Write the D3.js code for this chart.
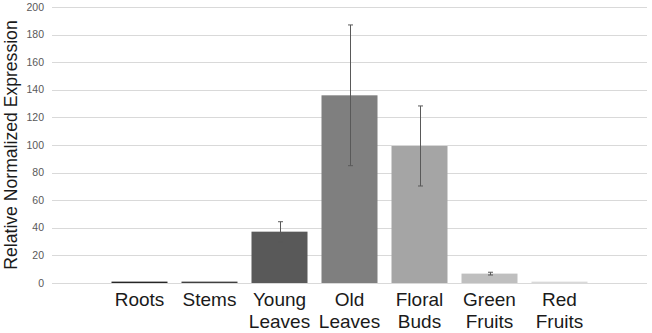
<!DOCTYPE html>
<html>
<head>
<meta charset="utf-8">
<script src="https://cdn.jsdelivr.net/npm/d3@7"></script>
<style>
  body { margin: 0; background: #fff; }
  svg { display: block; font-family: "Liberation Sans", Arial, sans-serif; }
</style>
</head>
<body>
<div id="chart"></div>
<script>
const tissues = [["Roots"], ["Stems"], ["Young", "Leaves"], ["Old", "Leaves"], ["Floral", "Buds"], ["Green", "Fruits"], ["Red", "Fruits"]];
const expression = [1, 1, 37.2, 136, 99.3, 6.8, 1];
const errors = [0.2, 0.2, 7.2, 51, 29, 1, 0.2];
const barColors = ["#262626", "#404040", "#595959", "#7f7f7f", "#a5a5a5", "#bfbfbf", "#d9d9d9"];
const yTicks = [0, 20, 40, 60, 80, 100, 120, 140, 160, 180, 200];

const width = 652, height = 333;
const names = tissues.map(d => d.join(" "));

const svg = d3.select("#chart")
  .append("svg")
  .attr("width", width)
  .attr("height", height);

const x = d3.scaleBand()
  .domain(names)
  .range([52, 647])
  .paddingInner(0.2)
  .paddingOuter(0.85);

const y = d3.scaleLinear()
  .domain([0, 200])
  .range([283, 7]);

// gridlines
svg.append("g")
  .selectAll("line")
  .data(yTicks)
  .join("line")
  .attr("x1", 52)
  .attr("x2", 647)
  .attr("y1", d => Math.round(y(d)) + 0.5)
  .attr("y2", d => Math.round(y(d)) + 0.5)
  .attr("stroke", "#d9d9d9")
  .attr("stroke-width", 1);

// y tick labels
svg.append("g")
  .selectAll("text")
  .data(yTicks)
  .join("text")
  .attr("x", 44)
  .attr("y", d => y(d))
  .attr("dy", "0.35em")
  .attr("text-anchor", "end")
  .attr("font-size", 10.5)
  .attr("fill", "#595959")
  .text(d => d);

// bars
svg.append("g")
  .selectAll("rect")
  .data(expression)
  .join("rect")
  .attr("x", (d, i) => x(names[i]))
  .attr("width", x.bandwidth())
  .attr("y", d => y(d))
  .attr("height", d => y(0) - y(d))
  .attr("fill", (d, i) => barColors[i]);

// error bars
const eb = svg.append("g")
  .attr("stroke", "#595959")
  .attr("stroke-width", 1);

expression.forEach((v, i) => {
  if (errors[i] < 0.5) return;
  const cx = Math.round(x(names[i]) + x.bandwidth() / 2) + 0.5;
  eb.append("line")
    .attr("x1", cx).attr("x2", cx)
    .attr("y1", y(v - errors[i])).attr("y2", y(v + errors[i]));
  [v - errors[i], v + errors[i]].forEach(e => {
    eb.append("line")
      .attr("x1", cx - 2.5).attr("x2", cx + 2.5)
      .attr("y1", y(e)).attr("y2", y(e));
  });
});

// x labels
svg.append("g")
  .selectAll("text")
  .data(tissues)
  .join("text")
  .attr("text-anchor", "middle")
  .attr("font-size", 19)
  .attr("fill", "#1a1a1a")
  .attr("transform", (d, i) => `translate(${x(names[i]) + x.bandwidth() / 2},306)`)
  .selectAll("tspan")
  .data(d => d)
  .join("tspan")
  .attr("x", 0)
  .attr("y", (d, j) => j * 21.5)
  .text(d => d);

// y axis title
svg.append("text")
  .attr("transform", `translate(17,${y(100)}) rotate(-90)`)
  .attr("text-anchor", "middle")
  .attr("font-size", 17.6)
  .attr("fill", "#1a1a1a")
  .text("Relative Normalized Expression");
</script>
</body>
</html>
